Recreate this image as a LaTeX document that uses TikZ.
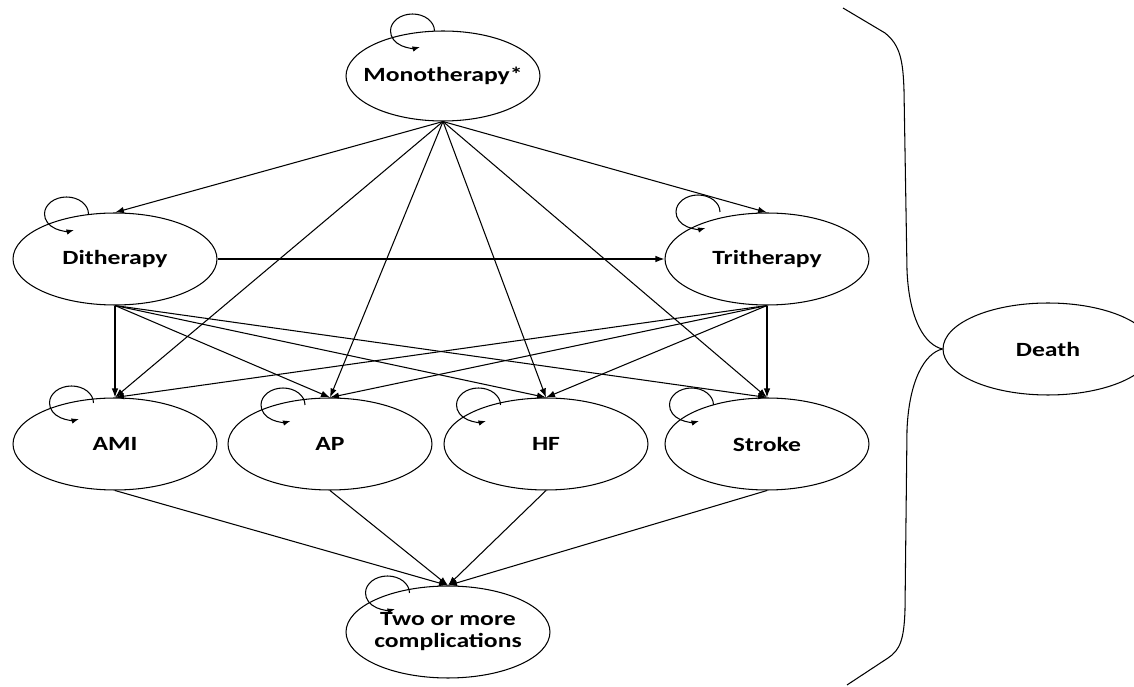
\documentclass[tikz,border=0pt]{standalone}
\usepackage{fontspec}
\usepackage{graphicx}
\setmainfont{Carlito}
\usetikzlibrary{shapes.geometric,arrows.meta}
\newcommand{\stretchtxt}[1]{\makebox[0pt]{\scalebox{1.27}[1]{#1}}}
\begin{document}
\begin{tikzpicture}[x=0.02cm,y=0.02cm,
  state/.style={ellipse,draw,line width=0.6pt,minimum width=4.08cm,minimum height=1.84cm,inner sep=0pt,
    font=\fontsize{11.5}{12.5}\selectfont\bfseries},
  arr/.style={line width=0.6pt,-{Latex[length=1.8mm,width=1.3mm]}},
  selfloop/.style={line width=0.6pt,-{Latex[length=1.5mm,width=1.1mm]}},
  bracepath/.style={line width=0.6pt}]
\useasboundingbox (0,0) rectangle (1134,687);
\node[state,minimum width=3.88cm,minimum height=1.80cm] (mono) at (443,611) {\stretchtxt{Monotherapy*}};
\node[state] (di) at (115,428) {\stretchtxt{Ditherapy}};
\node[state] (tri) at (767,428) {\stretchtxt{Tritherapy}};
\node[state] (ami) at (115,243) {\stretchtxt{AMI}};
\node[state] (ap) at (330,243) {\stretchtxt{AP}};
\node[state] (hf) at (546,243) {\stretchtxt{HF}};
\node[state] (stroke) at (767,243) {\stretchtxt{Stroke}};
\node[state] (two) at (448,55) {\stretchtxt{\begin{tabular}{@{}c@{}}Two or more\\complications\end{tabular}}};
\node[state,minimum width=4.2cm] (death) at (1048,338) {\stretchtxt{Death}};
% self loops
\draw[selfloop] ([shift={(-8.5,45)}]mono.center) arc[start angle=0,end angle=290,x radius=22,y radius=17];
\draw[selfloop] ([shift={(-26.5,45)}]di.center) arc[start angle=0,end angle=290,x radius=22,y radius=17];
\draw[selfloop] ([shift={(-47,47)}]tri.center) arc[start angle=0,end angle=290,x radius=22,y radius=17];
\draw[selfloop] ([shift={(-21.5,41)}]ami.center) arc[start angle=0,end angle=290,x radius=22,y radius=17];
\draw[selfloop] ([shift={(-25,39)}]ap.center) arc[start angle=0,end angle=290,x radius=22,y radius=17];
\draw[selfloop] ([shift={(-45.5,39)}]hf.center) arc[start angle=0,end angle=290,x radius=22,y radius=17];
\draw[selfloop] ([shift={(-53.5,39)}]stroke.center) arc[start angle=0,end angle=290,x radius=22,y radius=17];
\draw[selfloop] ([shift={(-38.5,39)}]two.center) arc[start angle=0,end angle=290,x radius=22,y radius=17];
% monotherapy edges
\foreach \t in {di,tri,ami,ap,hf,stroke}{\draw[arr] (mono.south) -- (\t.north);}
\draw[arr] (di.east) -- (tri.west);
\foreach \t in {ami,ap,hf,stroke}{\draw[arr] (di.south) -- (\t.north);}
\foreach \t in {ami,ap,hf,stroke}{\draw[arr] (tri.south) -- (\t.north);}
\foreach \s in {ami,ap,hf,stroke}{\draw[arr] (\s.south) -- (two.north);}
% brace
\draw[bracepath] (843,679) -- (885,654) .. controls (900,642) and (903,627) .. (904,597)
  -- (907,417) .. controls (909,367) and (925,342) .. (death.west)
  .. controls (925,334) and (909,307) .. (907,257)
  -- (905,77) .. controls (904,47) and (900,37) .. (888,29) -- (847,2);
\end{tikzpicture}
\end{document}
